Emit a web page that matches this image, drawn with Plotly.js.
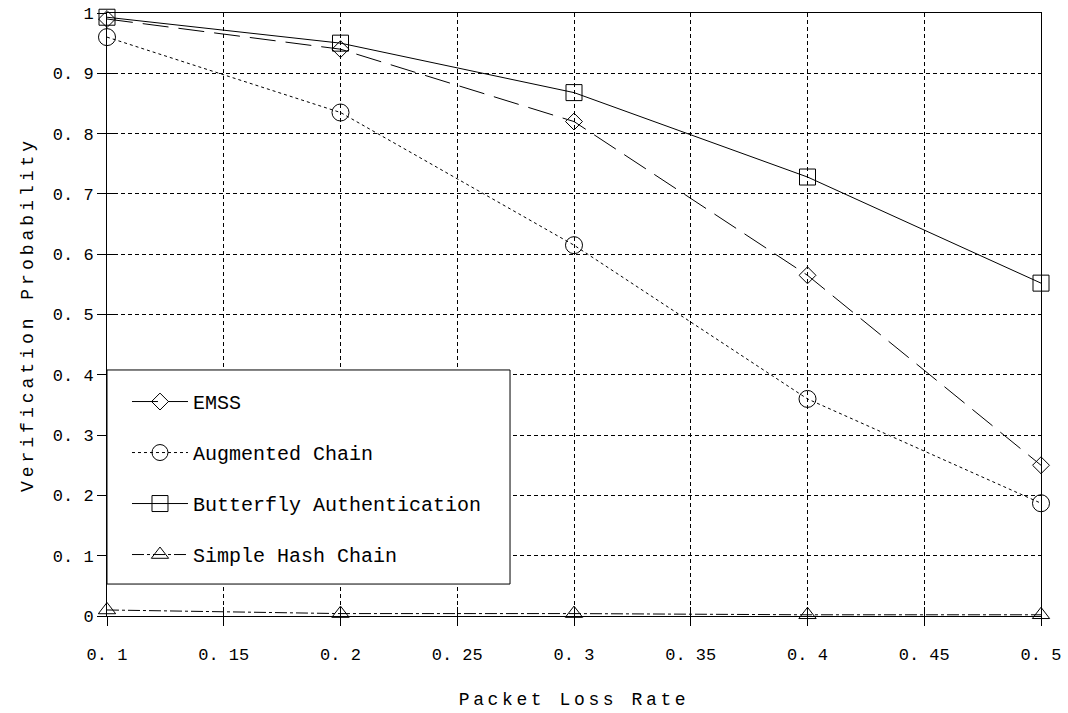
<!DOCTYPE html>
<html><head><meta charset="utf-8">
<script src="https://cdn.plot.ly/plotly-3.0.1.min.js"></script>
<style>
body{margin:0;background:#fff}
#chart{width:1068px;height:713px}
.xtitle{letter-spacing:3.6px}
.ytitle{letter-spacing:4px}
</style></head><body>
<div id="chart"></div>
<script>
const lossRate = [0.1, 0.2, 0.3, 0.4, 0.5];
const emss = [0.99, 0.94, 0.82, 0.565, 0.25];
const augmentedChain = [0.96, 0.835, 0.615, 0.36, 0.187];
const butterfly = [0.993, 0.95, 0.868, 0.728, 0.552];
const simpleHash = [0.01, 0.004, 0.004, 0.002, 0.002];
const xTickVals = [0.1, 0.15, 0.2, 0.25, 0.3, 0.35, 0.4, 0.45, 0.5];
const xTickText = ['0. 1','0. 15','0. 2','0. 25','0. 3','0. 35','0. 4','0. 45','0. 5'];
const yTickVals = [0, 0.1, 0.2, 0.3, 0.4, 0.5, 0.6, 0.7, 0.8, 0.9, 1];
const yTickText = ['0','0. 1','0. 2','0. 3','0. 4','0. 5','0. 6','0. 7','0. 8','0. 9','1'];

const F = '"Liberation Mono", "DejaVu Sans Mono", monospace';
function tr(name, y, sym, dash, size, grp){
  return {x: lossRate, y: y, name: name, type:'scatter', mode:'lines+markers',
    legendgroup: grp, cliponaxis:false,
    line:{color:'#000', width:1, dash: dash},
    marker:{symbol: sym, size: size, color:'#000', line:{color:'#000', width:1}}};
}
const data = [
  tr('EMSS', emss, 'diamond-open', '26px,10px', 13, 'a'),
  tr('Augmented Chain', augmentedChain, 'circle-open', '3px,3px', 17, 'b'),
  tr('Butterfly Authentication', butterfly, 'square-open', 'solid', 16, 'c'),
  tr('Simple Hash Chain', simpleHash, 'triangle-up-open', '12px,3px,3px,3px', 15, 'd'),
  {x: [], y: [], xaxis:'x2', yaxis:'y2', type:'scatter', mode:'lines', showlegend:false, hoverinfo:'skip'}
];
const tickAxisCommon = {showgrid:false, zeroline:false, showticklabels:false,
  ticks:'inside', ticklen:9, tickcolor:'#000', showline:false};
const layout = {
  width:1068, height:713,
  margin:{l:107, r:27, t:13, b:97},
  paper_bgcolor:'#fff', plot_bgcolor:'#fff',
  font:{family:F, color:'#000', size:17},
  showlegend:true,
  legend:{x:0.0214, y:0.388, xanchor:'left', yanchor:'top', bgcolor:'rgba(0,0,0,0)',
    borderwidth:0, traceorder:'grouped', tracegroupgap:22,
    itemwidth:56, font:{family:F, size:20, color:'#000'}},
  shapes:[{type:'rect', xref:'paper', yref:'paper', x0:0, x1:0.4315, y0:0.053, y1:0.408,
    line:{color:'#000', width:1}, fillcolor:'#fff', layer:'above'}],
  xaxis:{range:[0.1,0.5], tickvals:xTickVals, ticktext:xTickText,
    showgrid:true, gridcolor:'#000', gridwidth:1, griddash:'4px,3px',
    showline:true, linecolor:'#000', linewidth:1, mirror:true,
    ticks:'outside', ticklen:9, tickcolor:'#000', zeroline:false,
    tickfont:{family:F, size:17}, ticklabelstandoff:14,
    title:{text:'Packet Loss Rate', font:{family:F, size:18}, standoff:27}},
  yaxis:{range:[0,1], tickvals:yTickVals, ticktext:yTickText,
    showgrid:true, gridcolor:'#000', gridwidth:1, griddash:'4px,3px',
    showline:true, linecolor:'#000', linewidth:1, mirror:true,
    ticks:'outside', ticklen:9, tickcolor:'#000', zeroline:false,
    tickfont:{family:F, size:17}, ticklabelstandoff:0,
    title:{text:'Verification Probability', font:{family:F, size:18}, standoff:14}},
  xaxis2:Object.assign({overlaying:'x', anchor:'y2', side:'bottom', range:[0.1,0.5], tickvals:xTickVals}, tickAxisCommon),
  yaxis2:Object.assign({overlaying:'y', anchor:'x2', side:'left', range:[0,1], tickvals:yTickVals}, tickAxisCommon)
};
Plotly.newPlot('chart', data, layout, {displayModeBar:false});
</script></body></html>
